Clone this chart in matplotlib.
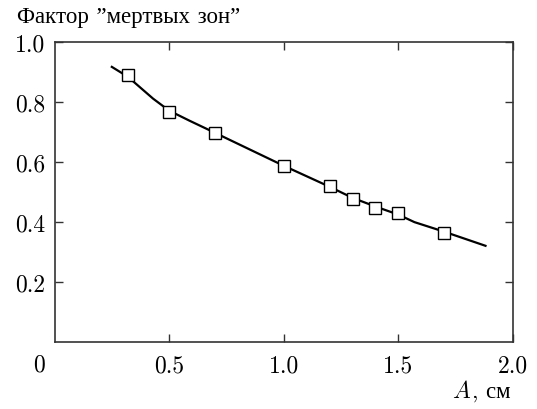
import matplotlib
matplotlib.use("Agg")
import matplotlib.pyplot as plt

plt.rcParams['font.family'] = ['cmr10', 'Liberation Serif', 'DejaVu Serif']
plt.rcParams['mathtext.fontset'] = 'cm'
plt.rcParams['axes.formatter.use_mathtext'] = True

# measured points
A_points = [0.32, 0.50, 0.70, 1.00, 1.20, 1.30, 1.40, 1.50, 1.70]
F_points = [0.890, 0.768, 0.696, 0.586, 0.520, 0.476, 0.448, 0.431, 0.364]

# fitted curve
A_curve = [0.25, 0.32, 0.43, 0.50, 0.59, 0.70, 1.00, 1.20, 1.30, 1.40, 1.50, 1.57, 1.70, 1.88]
F_curve = [0.918, 0.885, 0.812, 0.772, 0.738, 0.698, 0.588, 0.518, 0.481, 0.452, 0.425, 0.400, 0.368, 0.321]

x_ticks = [0.5, 1.0, 1.5, 2.0]
x_ticklabels = ["0.5", "1.0", "1.5", "2.0"]
y_ticks = [0.2, 0.4, 0.6, 0.8, 1.0]
y_ticklabels = ["0.2", "0.4", "0.6", "0.8", "1.0"]

W, H = 537, 410
fig = plt.figure(figsize=(W / 100, H / 100), dpi=100)
ax = fig.add_axes([0.1015, 0.1634, 0.8538, 0.731])

ax.plot(A_curve, F_curve, color='black', lw=1.6, zorder=2)
ax.plot(A_points, F_points, linestyle='none', marker='s', markersize=8,
        markerfacecolor='white', markeredgecolor='black', markeredgewidth=1.0, zorder=3)

ax.set_xlim(0, 2.0)
ax.set_ylim(0, 1.0)
ax.set_xticks(x_ticks)
ax.set_xticklabels(x_ticklabels)
ax.set_yticks(y_ticks)
ax.set_yticklabels(y_ticklabels)

FS = 17
ax.tick_params(direction='in', length=6, width=1.0, top=True, right=True,
               labelsize=FS, colors='#333333', labelcolor='black')
ax.tick_params(axis='x', pad=9)
ax.tick_params(axis='y', pad=7)
for sp in ax.spines.values():
    sp.set_linewidth(1.2)
    sp.set_color('#333333')

# "0" at the corner
fig.text(39 / W, 1 - 372 / H, "0", fontsize=FS, ha='center', va='baseline')

fig.text(17 / W, 1 - 23 / H, "Фактор ”мертвых зон”", fontsize=16.5,
         ha='left', va='baseline')

# axis label "A, см": italic math A + Cyrillic unit
t_unit = fig.text(510 / W, 1 - 398 / H, ", см", fontsize=16.5, ha='right', va='baseline')
fig.canvas.draw()
bb = t_unit.get_window_extent(fig.canvas.get_renderer())
fig.text(bb.x0 / W, 1 - 398 / H, r"$A$", fontsize=FS, ha='right', va='baseline')

fig.savefig("out.png", dpi=100)
